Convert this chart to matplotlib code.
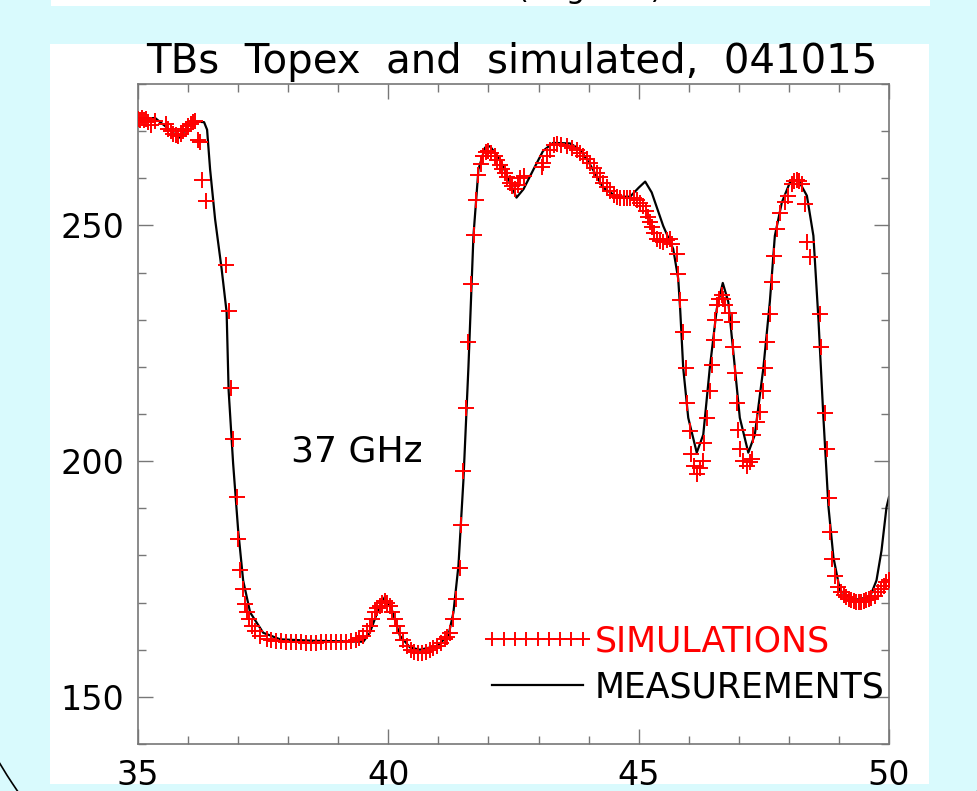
import matplotlib
matplotlib.use("Agg")
import matplotlib.pyplot as plt
from matplotlib.patches import Rectangle, Arc
from matplotlib.transforms import IdentityTransform
from matplotlib.lines import Line2D

# measured brightness temperatures (black line)
meas_freq = [35.00, 35.34, 35.55, 35.82, 36.00, 36.10, 36.32, 36.38, 36.44, 36.54,
             36.67, 36.77, 36.81, 36.90, 37.00, 37.10, 37.24, 37.50, 37.84, 38.50,
             39.00, 39.50, 39.63, 39.80, 39.93, 40.07, 40.23, 40.43, 40.63, 40.97,
             41.20, 41.30, 41.40, 41.50, 41.60, 41.70, 41.80, 41.93, 42.03, 42.23,
             42.43, 42.56, 42.70, 42.90, 43.09, 43.29, 43.63, 43.83, 44.03, 44.29,
             44.56, 44.83, 45.00, 45.13, 45.26, 45.49, 45.69, 45.79, 45.83, 45.89,
             45.99, 46.16, 46.29, 46.42, 46.56, 46.68, 46.79, 46.89, 47.02, 47.19,
             47.32, 47.49, 47.62, 47.72, 47.86, 48.02, 48.19, 48.36, 48.49, 48.59,
             48.69, 48.79, 48.89, 49.02, 49.29, 49.62, 49.75, 49.85, 49.95, 50.00]
meas_tb = [272.5, 272.8, 271.0, 268.6, 271.0, 272.1, 271.9, 270.3, 261.9, 251.3,
           240.8, 231.6, 215.0, 199.5, 185.4, 174.7, 167.9, 163.6, 162.2, 161.9,
           161.8, 161.7, 163.6, 168.5, 171.2, 168.5, 163.0, 160.5, 160.0, 160.8,
           163.0, 167.9, 177.8, 196.0, 220.0, 247.8, 261.9, 266.5, 266.8, 264.0,
           259.1, 255.9, 257.7, 261.9, 265.8, 267.5, 267.4, 266.1, 262.9, 258.0,
           256.1, 256.1, 258.0, 259.3, 257.0, 249.9, 245.0, 238.7, 232.0, 219.7,
           209.2, 201.8, 205.6, 219.7, 232.3, 237.8, 233.8, 223.2, 209.2, 201.8,
           205.6, 219.7, 233.8, 247.8, 254.9, 259.1, 259.6, 256.3, 247.8, 230.2,
           209.2, 190.4, 179.6, 172.6, 170.5, 171.2, 174.7, 181.0, 190.2, 192.4]

# simulated brightness temperatures (red crosses)
sim_freq = [35.00, 35.04, 35.08, 35.12, 35.16, 35.20, 35.26, 35.34,
            35.55, 35.60, 35.65, 35.70, 35.75, 35.80, 35.85, 35.90, 35.95, 36.00,
            36.05, 36.10, 36.14, 36.20, 36.24, 36.27, 36.36, 36.76, 36.81, 36.85,
            36.89, 36.97, 36.99, 37.04, 37.10, 37.14, 37.17, 37.22, 37.27, 37.34,
            37.44, 37.57, 37.65, 37.75, 37.85, 37.95, 38.05, 38.15, 38.25, 38.35,
            38.45, 38.55, 38.65, 38.75, 38.85, 38.95, 39.05, 39.15, 39.25, 39.35,
            39.42, 39.50, 39.57, 39.63, 39.68, 39.73, 39.78, 39.83, 39.88, 39.93,
            39.98, 40.03, 40.08, 40.13, 40.18, 40.23, 40.30, 40.37, 40.45, 40.52,
            40.60, 40.68, 40.76, 40.84, 40.90, 40.97, 41.05, 41.13, 41.18, 41.23,
            41.30, 41.36, 41.43, 41.45, 41.50, 41.56, 41.60, 41.66, 41.72, 41.75,
            41.80, 41.85, 41.90, 41.95, 42.00, 42.06, 42.13, 42.18, 42.23, 42.28,
            42.33, 42.38, 42.43, 42.48, 42.53, 42.58, 42.63, 42.70,
            43.06, 43.09, 43.16, 43.23, 43.30, 43.36, 43.45, 43.56, 43.66, 43.76,
            43.83, 43.89, 43.96, 44.03, 44.10, 44.16, 44.23, 44.29, 44.36, 44.43,
            44.50, 44.56, 44.63, 44.70, 44.76, 44.83, 44.90, 44.96, 45.03, 45.09,
            45.14, 45.19, 45.23, 45.26, 45.31, 45.36, 45.43, 45.49, 45.56, 45.63,
            45.66, 45.76, 45.79, 45.83, 45.89, 45.94, 45.97, 46.02, 46.04, 46.10,
            46.16, 46.22, 46.29, 46.30, 46.36, 46.42, 46.46, 46.50, 46.52, 46.56,
            46.61, 46.66, 46.69, 46.72, 46.80, 46.86, 46.89, 46.92, 46.96, 46.99,
            47.02, 47.09, 47.16, 47.22, 47.26, 47.29, 47.36, 47.42, 47.49, 47.52,
            47.56, 47.62, 47.66, 47.70, 47.76, 47.82, 47.92, 47.99, 48.06, 48.11,
            48.16, 48.21, 48.26, 48.32, 48.36, 48.42, 48.62, 48.65, 48.72, 48.77,
            48.81, 48.83, 48.87, 48.92, 48.99, 49.05, 49.10, 49.15, 49.20, 49.25,
            49.30, 49.35, 49.40, 49.45, 49.50, 49.55, 49.60, 49.65, 49.72, 49.78,
            49.85, 49.90, 49.95, 50.00]
sim_tb = [272.6, 272.4, 272.7, 272.3, 272.5, 272.0, 271.4, 272.1,
          271.5, 270.5, 270.0, 269.5, 269.2, 268.9, 269.5, 270.0, 270.5, 271.0,
          271.5, 272.0, 272.1, 268.2, 267.8, 259.6, 255.2, 241.6, 231.9, 215.6,
          204.6, 192.3, 183.5, 177.0, 172.9, 169.6, 167.9, 166.5, 165.0, 164.0,
          163.0, 162.3, 162.0, 161.9, 161.8, 161.7, 161.7, 161.6, 161.6, 161.5,
          161.5, 161.5, 161.6, 161.6, 161.7, 161.6, 161.6, 161.7, 161.8, 162.0,
          162.4, 163.0, 164.0, 165.0, 166.5, 167.9, 168.8, 169.3, 170.0, 170.3,
          170.0, 169.3, 168.0, 166.5, 165.0, 163.6, 162.0, 160.8, 160.0, 159.6,
          159.4, 159.4, 159.6, 159.9, 160.3, 160.8, 161.5, 162.2, 162.8, 163.6,
          166.5, 170.7, 177.4, 186.4, 198.0, 211.3, 225.2, 237.6, 248.0, 255.5,
          260.8, 263.0, 264.7, 265.5, 265.8, 265.4, 264.7, 263.8, 262.9, 262.0,
          261.2, 260.2, 259.1, 258.3, 257.7, 258.5, 260.1, 260.5,
          262.5, 263.3, 264.7, 266.1, 267.0, 267.2, 267.0, 266.9, 266.5, 266.1,
          265.4, 264.7, 264.0, 263.3, 262.2, 261.2, 260.2, 259.1, 258.2, 257.3,
          256.5, 256.1, 255.9, 255.9, 255.9, 255.9, 255.8, 255.5, 254.8, 254.2,
          253.0, 251.7, 250.7, 249.6, 248.4, 247.1, 246.8, 246.4, 246.9, 247.1,
          246.0, 243.9, 239.7, 234.1, 227.4, 219.7, 212.3, 206.3, 201.6, 199.0,
          197.2, 198.5, 200.0, 203.9, 209.2, 214.8, 220.4, 225.7, 229.9, 233.1,
          234.5, 235.2, 234.5, 233.1, 231.5, 229.5, 224.3, 218.6, 212.3, 206.7,
          202.5, 200.0, 198.9, 199.8, 200.4, 205.6, 208.4, 210.5, 214.8, 219.7,
          225.3, 231.3, 238.0, 243.6, 249.2, 252.7, 255.0, 256.3, 258.7, 259.5,
          259.6, 259.4, 258.7, 254.5, 246.4, 243.2, 231.3, 224.3, 210.2, 202.5,
          192.1, 184.9, 179.3, 175.7, 173.3, 172.3, 171.7, 171.2, 170.8, 170.5,
          170.3, 170.1, 170.1, 170.2, 170.4, 170.5, 170.8, 171.0, 171.5, 172.2,
          172.9, 173.6, 174.3, 174.8]

x_ticks = [35, 40, 45, 50]
y_ticks = [150, 200, 250]

W, H = 977, 791
fig = plt.figure(figsize=(W / 100, H / 100), dpi=100)
fig.patch.set_facecolor("#d9fafd")

# white slide panels
fig.add_artist(Rectangle((50 / W, 1 - 784 / H), 879 / W, 740 / H,
                         transform=fig.transFigure, facecolor="white", edgecolor="none", zorder=0))
fig.add_artist(Rectangle((51 / W, 1 - 6 / H), 879 / W, 6 / H,
                         transform=fig.transFigure, facecolor="white", edgecolor="none", zorder=0))
# axis title of the panel above, mostly cut off by the page edge
fig.text(590 / W, 1 + 2 / H, "(degrees)", fontsize=22, ha="center", va="baseline", color="black")

# slide decoration arcs
fig.add_artist(Arc((429, 284), 1000, 1000, theta1=205, theta2=222,
                   transform=IdentityTransform(), color="black", lw=1.2))
fig.add_artist(Arc((566, 284), 1000, 1000, theta1=318, theta2=330,
                   transform=IdentityTransform(), color="black", lw=1.2))

ax = fig.add_axes([138 / W, 1 - 744 / H, 751 / W, 660 / H])
ax.set_facecolor("white")

ax.plot(meas_freq, meas_tb, color="black", lw=1.6, zorder=2)
ax.plot(sim_freq, sim_tb, linestyle="none", marker="+", color="red",
        markersize=12, markeredgewidth=1.4, zorder=3)

ax.set_xlim(35, 50)
ax.set_ylim(140, 280)
ax.set_xticks(x_ticks)
ax.set_yticks(y_ticks)
ax.set_xticks([35 + i for i in range(16)], minor=True)
ax.set_yticks([140 + 10 * i for i in range(15)], minor=True)

for s in ax.spines.values():
    s.set_color("#777777")
    s.set_linewidth(1.2)
ax.tick_params(which="both", direction="in", top=True, right=True,
               color="#777777", width=1.0, labelsize=24)
ax.tick_params(which="major", length=11)
ax.tick_params(which="minor", length=5.5)
ax.tick_params(axis="y", pad=10)
ax.tick_params(axis="x", pad=11)

ax.text(38.05, 202, "37 GHz", fontsize=26, ha="left", va="center")

fig.text(0.5235, 1 - 62 / H, "TBs  Topex  and  simulated,  041015",
         fontsize=29, ha="center", va="center")

handles = [Line2D([], [], linestyle="none", marker="+", color="red",
                  markersize=12, markeredgewidth=1.4),
           Line2D([], [], color="black", lw=1.6)]
leg = ax.legend(handles, ["SIMULATIONS", "MEASUREMENTS"], loc="lower left",
                bbox_to_anchor=((482 - 138) / 751, 0.06), frameon=False,
                numpoints=9, markerscale=0.8, handlelength=3.2, handletextpad=0.05,
                labelspacing=0.35, borderpad=0, borderaxespad=0,
                fontsize=25, labelcolor=["red", "black"])

fig.savefig("out.png", dpi=100, facecolor=fig.get_facecolor())
